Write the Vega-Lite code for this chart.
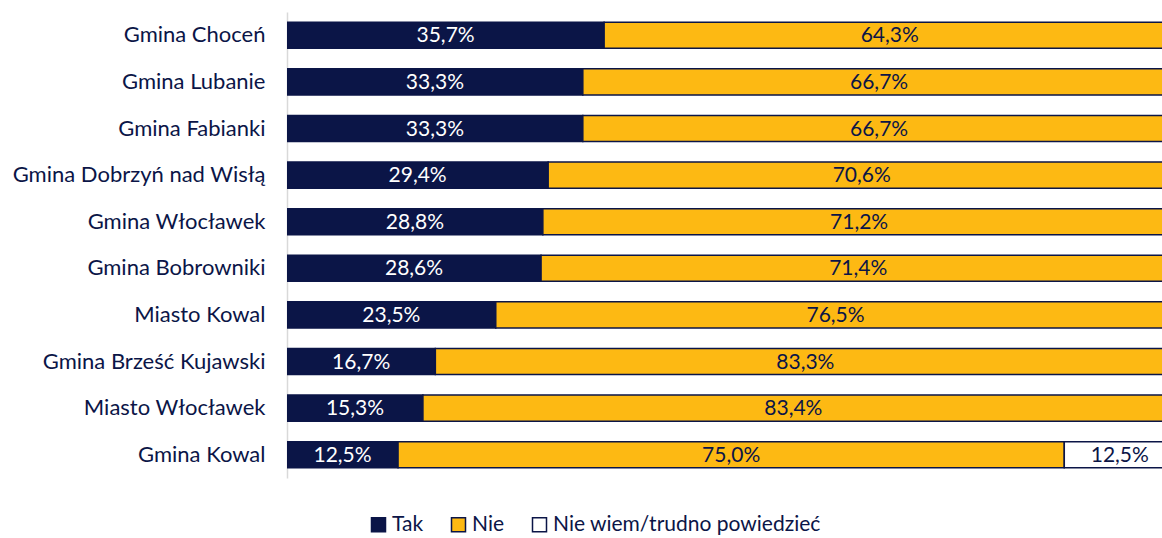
{
  "$schema": "https://vega.github.io/schema/vega-lite/v6.json",
  "width": 875,
  "height": 466,
  "autosize": {"type": "none"},
  "padding": {"left": 287, "top": 12, "right": 0, "bottom": 60},
  "background": "white",
  "data": {
    "values": [
      {"gmina": "Gmina Choceń", "answer": "Tak", "value": 35.7},
      {"gmina": "Gmina Choceń", "answer": "Nie", "value": 64.3},
      {"gmina": "Gmina Lubanie", "answer": "Tak", "value": 33.3},
      {"gmina": "Gmina Lubanie", "answer": "Nie", "value": 66.7},
      {"gmina": "Gmina Fabianki", "answer": "Tak", "value": 33.3},
      {"gmina": "Gmina Fabianki", "answer": "Nie", "value": 66.7},
      {"gmina": "Gmina Dobrzyń nad Wisłą", "answer": "Tak", "value": 29.4},
      {"gmina": "Gmina Dobrzyń nad Wisłą", "answer": "Nie", "value": 70.6},
      {"gmina": "Gmina Włocławek", "answer": "Tak", "value": 28.8},
      {"gmina": "Gmina Włocławek", "answer": "Nie", "value": 71.2},
      {"gmina": "Gmina Bobrowniki", "answer": "Tak", "value": 28.6},
      {"gmina": "Gmina Bobrowniki", "answer": "Nie", "value": 71.4},
      {"gmina": "Miasto Kowal", "answer": "Tak", "value": 23.5},
      {"gmina": "Miasto Kowal", "answer": "Nie", "value": 76.5},
      {"gmina": "Gmina Brześć Kujawski", "answer": "Tak", "value": 16.7},
      {"gmina": "Gmina Brześć Kujawski", "answer": "Nie", "value": 83.3},
      {"gmina": "Miasto Włocławek", "answer": "Tak", "value": 15.3},
      {"gmina": "Miasto Włocławek", "answer": "Nie", "value": 83.4},
      {"gmina": "Miasto Włocławek", "answer": "Nie wiem/trudno powiedzieć", "value": 1.3},
      {"gmina": "Gmina Kowal", "answer": "Tak", "value": 12.5},
      {"gmina": "Gmina Kowal", "answer": "Nie", "value": 75.0},
      {"gmina": "Gmina Kowal", "answer": "Nie wiem/trudno powiedzieć", "value": 12.5}
    ]
  },
  "transform": [
    {"calculate": "indexof(['Tak','Nie','Nie wiem/trudno powiedzieć'], datum.answer)", "as": "ord"},
    {"stack": "value", "groupby": ["gmina"], "sort": [{"field": "ord", "order": "ascending"}], "as": ["x0", "x1"]},
    {"calculate": "(datum.x0 + datum.x1) / 2", "as": "xm"},
    {"calculate": "replace(format(datum.value, '.1f'), '.', ',') + '%'", "as": "label"}
  ],
  "encoding": {
    "y": {
      "field": "gmina",
      "type": "nominal",
      "sort": ["Gmina Choceń", "Gmina Lubanie", "Gmina Fabianki", "Gmina Dobrzyń nad Wisłą", "Gmina Włocławek", "Gmina Bobrowniki", "Miasto Kowal", "Gmina Brześć Kujawski", "Miasto Włocławek", "Gmina Kowal"],
      "scale": {"paddingInner": 0.44, "paddingOuter": 0.22},
      "axis": {
        "title": null,
        "ticks": false,
        "domain": true,
        "domainColor": "#d9d9d9",
        "domainWidth": 1.5,
        "labelPadding": 22,
        "labelFont": "Lato",
        "labelFontSize": 22,
        "labelColor": "#0b1547",
        "labelLimit": 400
      }
    }
  },
  "layer": [
    {
      "mark": {"type": "bar", "stroke": "#0b1547", "strokeWidth": 1.5, "clip": true},
      "encoding": {
        "x": {"field": "x0", "type": "quantitative", "scale": {"domain": [0, 98.5], "nice": false, "zero": true}, "axis": null},
        "x2": {"field": "x1"},
        "fill": {
          "field": "answer",
          "type": "nominal",
          "scale": {"domain": ["Tak", "Nie", "Nie wiem/trudno powiedzieć"], "range": ["#0b1547", "#fdb913", "#ffffff"]},
          "legend": {
            "title": null,
            "orient": "none",
            "direction": "horizontal",
            "legendX": 81,
            "legendY": 502,
            "symbolType": "square",
            "symbolSize": 196,
            "symbolStrokeColor": "#0b1547",
            "symbolStrokeWidth": 1.5,
            "labelFont": "Lato",
            "labelFontSize": 21,
            "labelColor": "#0b1547",
            "columnPadding": 24,
            "labelOffset": 3,
            "labelLimit": 400
          }
        }
      }
    },
    {
      "transform": [{"filter": "datum.value >= 5"}],
      "mark": {"type": "text", "font": "Lato", "fontSize": 21, "align": "center", "baseline": "middle", "dy": 1},
      "encoding": {
        "x": {"field": "xm", "type": "quantitative", "scale": {"domain": [0, 98.5], "nice": false}},
        "text": {"field": "label"},
        "color": {
          "condition": {"test": "datum.answer === 'Tak'", "value": "#ffffff"},
          "value": "#0b1547"
        }
      }
    }
  ],
  "config": {"view": {"stroke": null}}
}
